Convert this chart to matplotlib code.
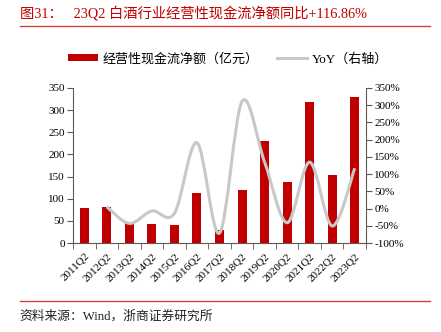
import numpy as np
import matplotlib
matplotlib.use('Agg')
import matplotlib.pyplot as plt
from matplotlib.path import Path
from matplotlib.patches import PathPatch, Patch
from matplotlib.lines import Line2D
from matplotlib.ticker import MultipleLocator, FuncFormatter

plt.rcParams['font.family'] = ['Liberation Serif', 'Noto Sans CJK SC']

# 数据
quarters = ['2011Q2', '2012Q2', '2013Q2', '2014Q2', '2015Q2', '2016Q2', '2017Q2',
            '2018Q2', '2019Q2', '2020Q2', '2021Q2', '2022Q2', '2023Q2']
cash_flow = [79, 80.6, 45.8, 42.9, 40.6, 114, 29.3, 119, 231, 137.6, 319, 152.8, 329]
yoy = [5, -43, -7, -14, 191, -71, 311, 135, -41, 134.6, -50.6, 116.86]  # 从2012Q2开始

rojo = '#C00000'
gris = '#C8C8C8'


def curva_suave(xs, ys):
    # Catmull-Rom -> Bezier, para imitar la linea suavizada de Excel
    pts = np.column_stack([xs, ys]).astype(float)
    ext = np.vstack([pts[0], pts, pts[-1]])
    verts = [tuple(pts[0])]
    codes = [Path.MOVETO]
    for i in range(1, len(ext) - 2):
        p0, p1, p2, p3 = ext[i - 1], ext[i], ext[i + 1], ext[i + 2]
        c1 = p1 + (p2 - p0) / 6.0
        c2 = p2 - (p3 - p1) / 6.0
        verts += [tuple(c1), tuple(c2), tuple(p2)]
        codes += [Path.CURVE4] * 3
    return Path(verts, codes)


fig = plt.figure(figsize=(4.41, 3.32), dpi=100)
ax = fig.add_axes([0.1655, 0.268, 0.6645, 0.467])
ax2 = ax.twinx()

x = np.arange(len(quarters))
ax.bar(x, cash_flow, width=0.4, color=rojo, zorder=2)

camino = curva_suave(x[1:], yoy)
ax2.add_patch(PathPatch(camino, facecolor='none', edgecolor=gris, lw=2.2,
                        transform=ax2.transData, zorder=3))

ax.set_xlim(-0.5, len(quarters) - 0.5)
ax.set_ylim(0, 350)
ax.yaxis.set_major_locator(MultipleLocator(50))
ax2.set_ylim(-100, 350)
ax2.yaxis.set_major_locator(MultipleLocator(50))
ax2.yaxis.set_major_formatter(FuncFormatter(lambda v, p: '%d%%' % v))

ax.set_xticks(x)
ax.set_xticklabels(quarters, rotation=45, ha='right', va='top', rotation_mode='anchor')
ax.set_xticks(np.arange(-0.5, len(quarters)), minor=True)
ax.tick_params(axis='x', which='major', length=0, pad=6, labelsize=8)
ax.tick_params(axis='x', which='minor', length=4, direction='out', color='#595959')
ax.tick_params(axis='y', length=4, direction='out', color='#595959', labelsize=8, pad=2)
ax2.tick_params(axis='y', length=4, direction='out', color='#595959', labelsize=8, pad=2)

for a in (ax, ax2):
    a.spines['top'].set_visible(False)
    for s in ('left', 'right', 'bottom'):
        a.spines[s].set_color('#595959')
        a.spines[s].set_linewidth(0.8)
ax.spines['right'].set_visible(False)
ax2.spines['left'].set_visible(False)
ax2.spines['bottom'].set_visible(False)
ax.set_zorder(ax2.get_zorder() - 1)
ax.patch.set_visible(False)

# leyenda
handles = [Patch(facecolor=rojo, edgecolor='none'),
           Line2D([0], [0], color=gris, lw=2.2)]
fig.legend(handles, ['经营性现金流净额（亿元）', 'YoY（右轴）'], loc='center',
           bbox_to_anchor=(0.517, 0.822), ncol=2, frameon=False, fontsize=9.4,
           handlelength=2.3, handleheight=0.45, columnspacing=1.4, handletextpad=0.35)

# titulo y fuente
fig.text(0.045, 0.962, '图31：   23Q2 白酒行业经营性现金流净额同比+116.86%',
         color=rojo, fontsize=10.3, va='center', ha='left')
fig.add_artist(Line2D([0.045, 0.975], [0.9217, 0.9217], color='#D04040', lw=1,
                      transform=fig.transFigure))
fig.add_artist(Line2D([0.045, 0.975], [0.0934, 0.0934], color='#D04040', lw=1,
                      transform=fig.transFigure))
fig.text(0.045, 0.046, '资料来源：Wind，浙商证券研究所', fontsize=9.2,
         va='center', ha='left', color='#222222')

fig.savefig('out.png', dpi=100)
